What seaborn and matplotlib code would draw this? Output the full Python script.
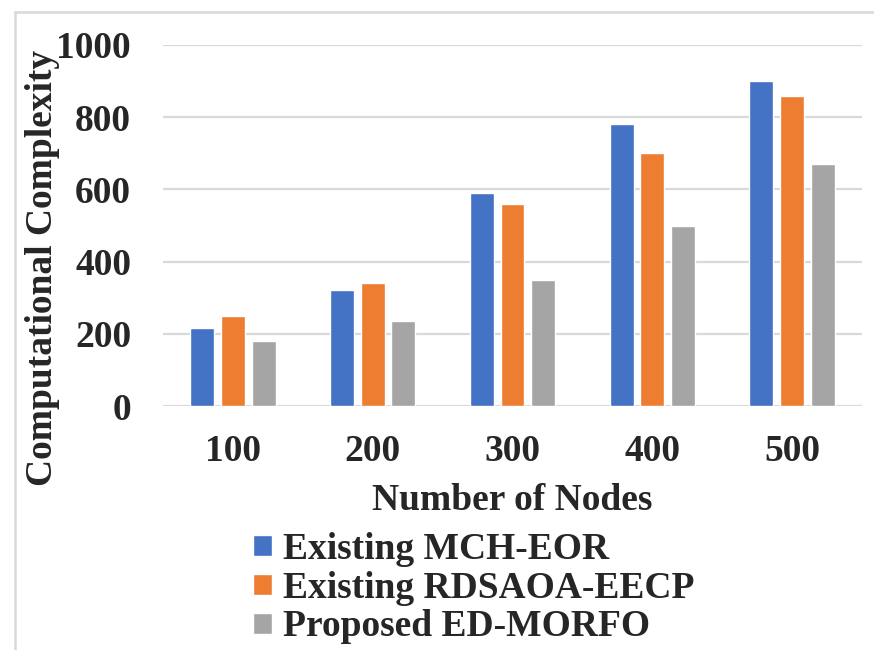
import matplotlib
matplotlib.use('Agg')
import matplotlib.pyplot as plt
import seaborn as sns
import pandas as pd
from matplotlib.lines import Line2D

nodes = ['100', '200', '300', '400', '500']
series = ['Existing MCH-EOR', 'Existing RDSAOA-EECP', 'Proposed ED-MORFO']
mch = [215, 320, 590, 780, 900]
rds = [250, 340, 560, 700, 860]
ed = [180, 235, 350, 500, 670]
colors = ['#4472C4', '#ED7D31', '#A5A5A5']
yticks = [0, 200, 400, 600, 800, 1000]

df = pd.DataFrame({
    'Nodes': nodes * 3,
    'Method': [s for s in series for _ in nodes],
    'Value': mch + rds + ed,
})

sns.set_theme(style='white')
plt.rcParams['font.family'] = ['Liberation Serif', 'DejaVu Serif']
plt.rcParams['font.weight'] = 'bold'

FS = 27
W, H = 874, 650
fig = plt.figure(figsize=(W / 100, H / 100), dpi=100)
ax = fig.add_axes([163 / W, 1 - 406 / H, (862 - 163) / W, (406 - 45) / H])

sns.barplot(data=df, x='Nodes', y='Value', hue='Method', order=nodes,
            hue_order=series, palette=colors, saturation=1,
            width=0.66, gap=0.22, ax=ax)

ax.set_xlim(-0.5, 4.5)
ax.set_ylim(0, 1000)
ax.set_yticks(yticks)
ax.set_yticklabels([str(v) for v in yticks])
ax.set_axisbelow(True)
ax.yaxis.grid(True, color='#D9D9D9', lw=1.6)
ax.xaxis.grid(False)
for s in ax.spines.values():
    s.set_visible(False)
ax.tick_params(axis='y', length=0, pad=23, labelsize=FS)
ax.tick_params(axis='x', length=0, pad=20, labelsize=FS)
for lbl in ax.get_xticklabels() + ax.get_yticklabels():
    lbl.set_fontweight('bold')
ax.set_xlabel('')
ax.set_ylabel('')

fig.text(43 / W, 1 - 268 / H, 'Computational Complexity', rotation=90,
         ha='center', va='center', fontsize=FS, fontweight='bold')
fig.text(512 / W, 1 - 500 / H, 'Number of Nodes',
         ha='center', va='center', fontsize=FS, fontweight='bold')

handles, labels = ax.get_legend_handles_labels()
ax.legend(handles, labels, loc='upper left',
          bbox_to_anchor=(253 / W, 1 - 532 / H), bbox_transform=fig.transFigure,
          frameon=False, prop={'weight': 'bold', 'size': FS},
          handlelength=0.5, handleheight=0.5, handletextpad=0.3,
          labelspacing=0.1, borderpad=0, borderaxespad=0)

fig.add_artist(Line2D([15 / W, 15 / W], [0, 1 - 12 / H], color='#D9D9D9', lw=1.8,
                      transform=fig.transFigure))
fig.add_artist(Line2D([15 / W, 1], [1 - 12 / H, 1 - 12 / H], color='#D9D9D9', lw=1.8,
                      transform=fig.transFigure))

fig.savefig('out.png', dpi=100)
